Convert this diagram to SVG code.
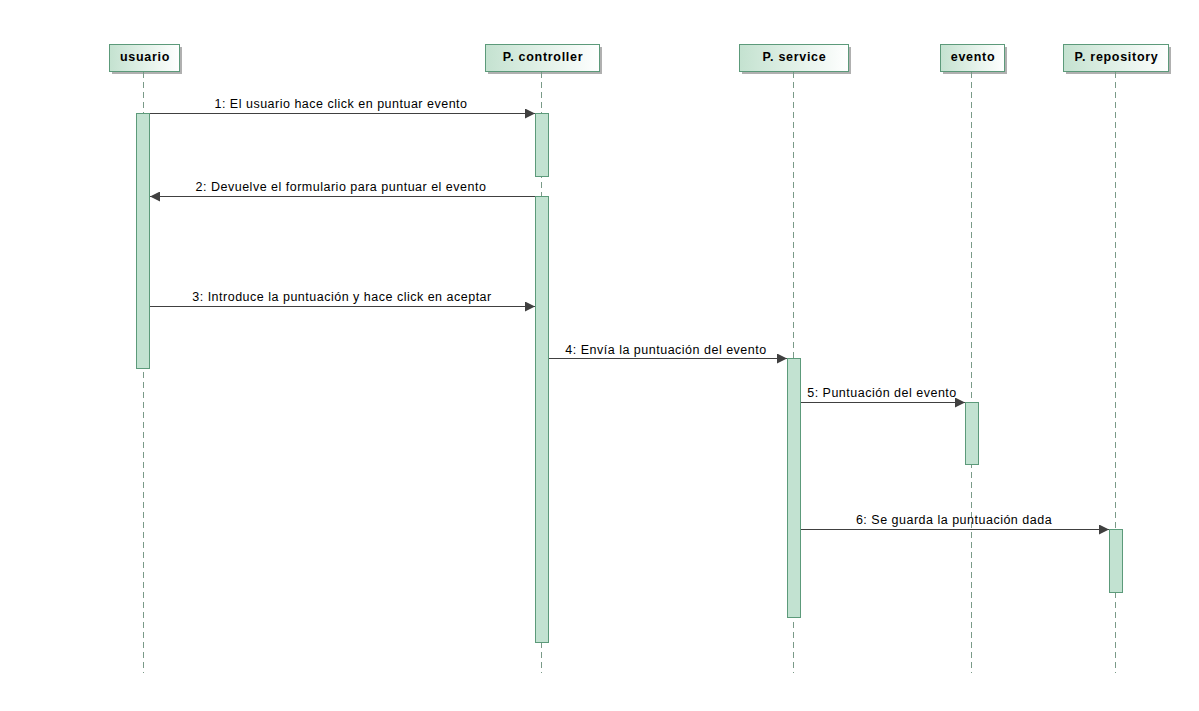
<svg xmlns="http://www.w3.org/2000/svg" width="1199" height="711" viewBox="0 0 1199 711">
  <defs>
    <linearGradient id="hdr" x1="0" y1="0" x2="1" y2="0">
      <stop offset="0" stop-color="#c4e2d0"/>
      <stop offset="1" stop-color="#ffffff"/>
    </linearGradient>
    <marker id="arr" viewBox="0 0 10 10" refX="10" refY="5" markerWidth="10" markerHeight="10" markerUnits="userSpaceOnUse" orient="auto">
      <path d="M0,0 L10,5 L0,10 z" fill="#404040"/>
    </marker>
  </defs>
  <style>
    .shadow { fill: #b0b0b0; }
    .head { fill: url(#hdr); stroke: #5c9a7a; stroke-width: 1; }
    .title { font-family: "Liberation Sans", Arial, sans-serif; font-size: 12.5px; font-weight: bold; letter-spacing: 0.7px; fill: #000; text-anchor: middle; }
    .life { stroke: #7a9a88; stroke-width: 1; stroke-dasharray: 6 4; fill: none; }
    .act { fill: #c2e2d1; stroke: #5c9a7a; stroke-width: 1; }
    .msg { stroke: #404040; stroke-width: 1; fill: none; marker-end: url(#arr); }
    .lbl { font-family: "Liberation Sans", Arial, sans-serif; font-size: 12.5px; letter-spacing: 0.5px; fill: #000; text-anchor: middle; }
  </style>
  <rect width="1199" height="711" fill="#ffffff"/>

  <!-- participants -->
  <g id="usuario">
    <rect class="shadow" x="112" y="47" width="70" height="27"/>
    <rect class="head" x="109.5" y="44.5" width="70" height="27"/>
    <text class="title" x="145" y="61">usuario</text>
    <line class="life" x1="143.5" y1="72" x2="143.5" y2="673"/>
    <rect class="act" x="136.5" y="113.5" width="13" height="255"/>
  </g>
  <g id="controller">
    <rect class="shadow" x="488" y="47" width="114" height="27"/>
    <rect class="head" x="485.5" y="44.5" width="114" height="27"/>
    <text class="title" x="543" y="61">P. controller</text>
    <line class="life" x1="541.5" y1="72" x2="541.5" y2="673"/>
    <rect class="act" x="535.5" y="113.5" width="13" height="63"/>
    <rect class="act" x="535.5" y="196.5" width="13" height="446"/>
  </g>
  <g id="service">
    <rect class="shadow" x="742" y="47" width="109" height="27"/>
    <rect class="head" x="739.5" y="44.5" width="109" height="27"/>
    <text class="title" x="794.5" y="61">P. service</text>
    <line class="life" x1="793.5" y1="72" x2="793.5" y2="673"/>
    <rect class="act" x="787.5" y="358.5" width="13" height="259"/>
  </g>
  <g id="evento">
    <rect class="shadow" x="943" y="47" width="64" height="27"/>
    <rect class="head" x="940.5" y="44.5" width="64" height="27"/>
    <text class="title" x="973" y="61">evento</text>
    <line class="life" x1="971.5" y1="72" x2="971.5" y2="673"/>
    <rect class="act" x="965.5" y="402.5" width="13" height="62"/>
  </g>
  <g id="repository">
    <rect class="shadow" x="1066" y="47" width="105" height="27"/>
    <rect class="head" x="1063.5" y="44.5" width="105" height="27"/>
    <text class="title" x="1116.5" y="61">P. repository</text>
    <line class="life" x1="1115.5" y1="72" x2="1115.5" y2="673"/>
    <rect class="act" x="1109.5" y="529.5" width="13" height="63"/>
  </g>

  <!-- messages -->
  <g id="connectors">
    <line class="msg" x1="150" y1="113.5" x2="535" y2="113.5"/>
    <text class="lbl" x="341" y="107.5">1: El usuario hace click en puntuar evento</text>
    <line class="msg" x1="535" y1="196.5" x2="150" y2="196.5"/>
    <text class="lbl" x="341" y="190.5">2: Devuelve el formulario para puntuar el evento</text>
    <line class="msg" x1="150" y1="306.5" x2="535" y2="306.5"/>
    <text class="lbl" x="342" y="300.5">3: Introduce la puntuación y hace click en aceptar</text>
    <line class="msg" x1="549" y1="358.5" x2="787" y2="358.5"/>
    <text class="lbl" x="666" y="353.5">4: Envía la puntuación del evento</text>
    <line class="msg" x1="801" y1="402.5" x2="965" y2="402.5"/>
    <text class="lbl" x="882" y="396.5">5: Puntuación del evento</text>
    <line class="msg" x1="801" y1="529.5" x2="1109" y2="529.5"/>
    <text class="lbl" x="954" y="523.5">6: Se guarda la puntuación dada</text>
  </g>
</svg>
